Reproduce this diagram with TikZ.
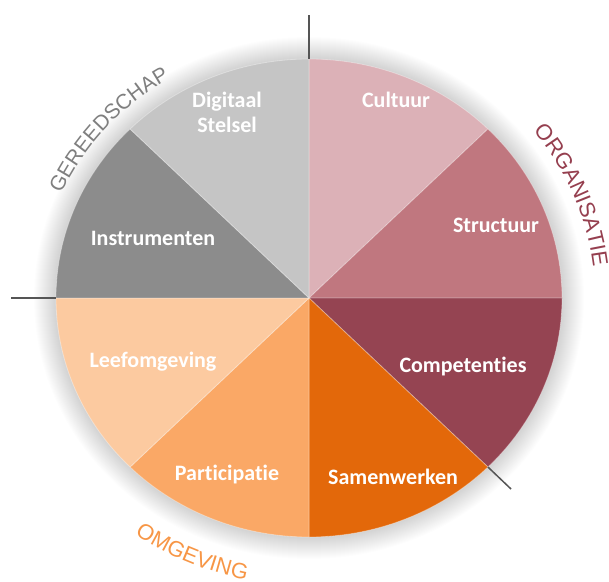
\documentclass[tikz,border=0pt]{standalone}
\usepackage{fontspec}
\newfontfamily\slicefont{Carlito}[Ligatures=CommonOff]
\newfontfamily\ringfont{Liberation Sans}
\usetikzlibrary{calc,decorations.text}

% slice fills
\definecolor{cultuur}{HTML}{DCB1B7}
\definecolor{structuur}{HTML}{C0777F}
\definecolor{competenties}{HTML}{954452}
\definecolor{samenwerken}{HTML}{E3680A}
\definecolor{participatie}{HTML}{FAA866}
\definecolor{leefomgeving}{HTML}{FCCAA0}
\definecolor{instrumenten}{HTML}{8C8C8C}
\definecolor{digitaal}{HTML}{C5C5C5}
% ring titles and tick marks
\definecolor{gereedschap}{HTML}{7F7F7F}
\definecolor{organisatie}{HTML}{953F4F}
\definecolor{omgeving}{HTML}{F79646}
\definecolor{tickgrey}{HTML}{555555}

\newcommand\ringsize{\ringfont\fontsize{22}{22}\selectfont}
\newcommand\ringsizetight{\ringfont\fontsize{21}{21}\selectfont}

\begin{document}
\begin{tikzpicture}[x=1pt,y=1pt,
  slicelabel/.style={text=white, font=\slicefont\bfseries\fontsize{22}{25}\selectfont,
    anchor=base, inner sep=0pt},
  slice/.style={draw=white, draw opacity=0.35, line width=0.8pt},
  tick/.style={draw=tickgrey, line width=1.5pt}]
\useasboundingbox (0,0) rectangle (609,581);

\coordinate (C) at (309,283);

% soft halo around the disc
\foreach \i in {1,...,22}
  \fill[black, opacity=0.008] (C) ellipse [x radius=253pt+\i pt, y radius=239pt+\i pt];

% the eight slices, clockwise from the top
\foreach \a/\col in {90/cultuur, 45/structuur, 0/competenties, -45/samenwerken,
                     -90/participatie, -135/leefomgeving, -180/instrumenten, -225/digitaal}
  \filldraw[slice, fill=\col] (C) -- ($(C)+(\a:253pt and 239pt)$)
     arc[start angle=\a, end angle=\a-45, x radius=253pt, y radius=239pt] -- cycle;

% slice labels
\node[slicelabel] (cul) at (396,473.4) {Cultuur};
\node[slicelabel] (dig) at (227,473.4) {Digitaal};
\node[slicelabel] (ste) at (227,448.2) {Stelsel};
\node[slicelabel] (str) at (496,348) {Structuur};
\node[slicelabel] (ins) at (153,335) {Instrumenten};
\node[slicelabel] (com) at (463,209) {Competenties};
\node[slicelabel] (lee) at (153,214) {Leefomgeving};
\node[slicelabel] (par) at (227,101) {Participatie};
\node[slicelabel] (sam) at (393,97) {Samenwerken};

% tick marks between the three groups
\coordinate (topIn) at ($(C)+(90:253pt and 239pt)$);
\coordinate (topOut) at (309,566);
\coordinate (leftIn) at ($(C)+(180:253pt and 239pt)$);
\coordinate (leftOut) at (11,283);
\coordinate (diagIn) at ($(C)+(-45:253pt and 239pt)$);
\coordinate (diagOut) at (511,92);
\draw[tick] (topIn) -- (topOut);
\draw[tick] (leftIn) -- (leftOut);
\draw[tick] (diagIn) -- (diagOut);

% group titles along the rim
\path[decorate, decoration={text along path, text align=center,
    text color=gereedschap, text={|\ringsizetight|GEREEDSCHAP}}]
  ($(C)+(179:271pt and 256pt)$) arc[start angle=179, end angle=99, x radius=271pt, y radius=256pt];
\path[decorate, decoration={text along path, text align=center,
    text color=organisatie, text={|\ringsize|ORGANISATIE}}]
  ($(C)+(62:286pt and 270pt)$) arc[start angle=62, end angle=-18, x radius=286pt, y radius=270pt];
\path[decorate, decoration={text along path, text align=center,
    text color=omgeving, text={|\ringsize|OMGEVING}}]
  ($(C)+(-153.8:305pt and 288pt)$) arc[start angle=-153.8, end angle=-73.8, x radius=305pt, y radius=288pt];
\end{tikzpicture}
\end{document}
